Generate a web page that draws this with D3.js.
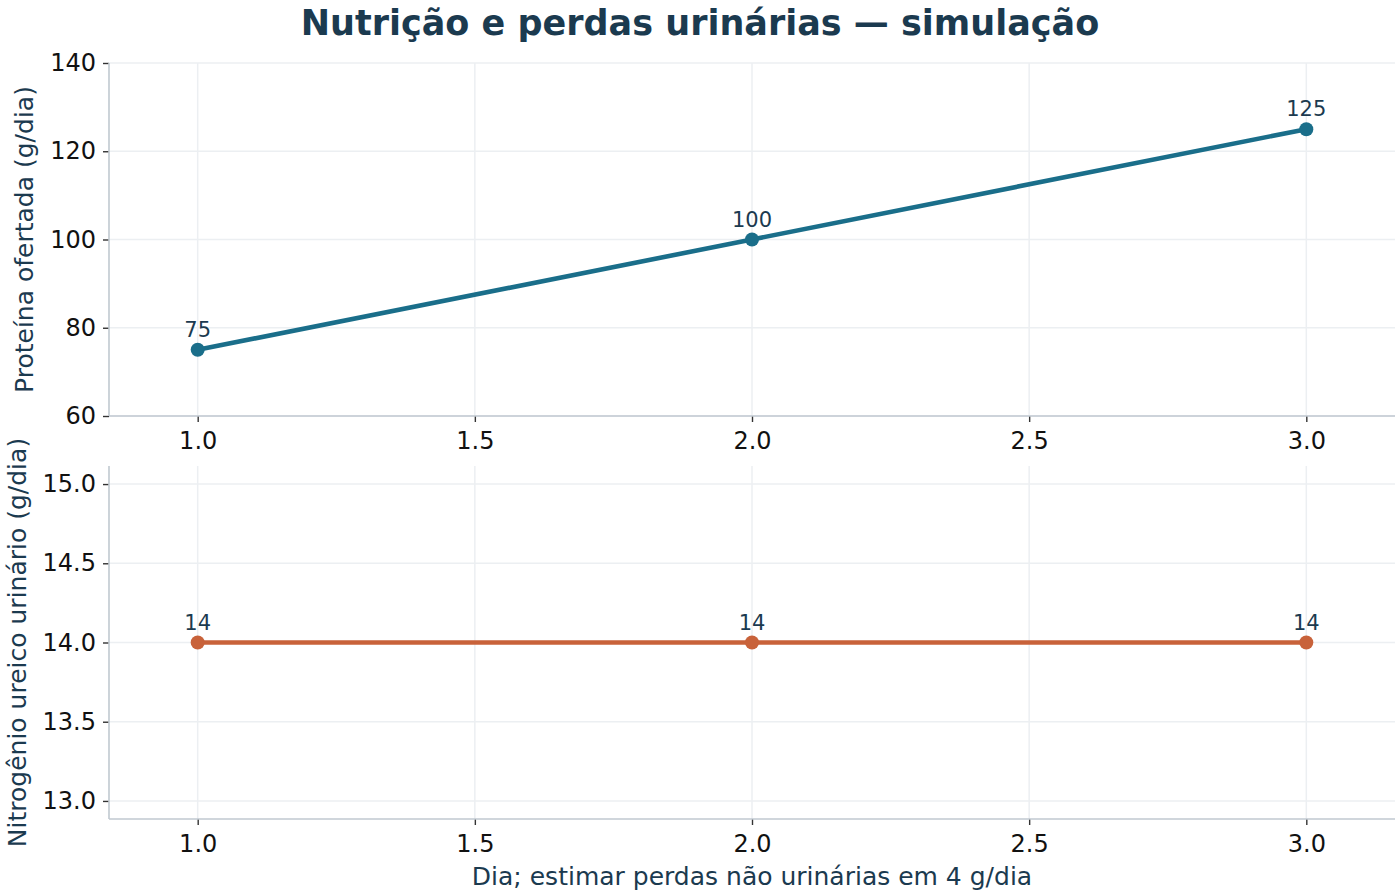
<!DOCTYPE html>
<html>
<head>
<meta charset="utf-8">
<script src="https://d3js.org/d3.v7.min.js"></script>
<style>
    body { margin: 0; background: white; }
    svg text { font-family: 'DejaVu Sans', sans-serif; }
</style>
</head>
<body>
<svg id="chart" width="1400" height="896"></svg>
<script>
// data
const dias = [1, 2, 3];
const proteina = [75, 100, 125];
const nitrogenio = [14, 14, 14];
const xTicks = [1.0, 1.5, 2.0, 2.5, 3.0];
const yTicksTop = [60, 80, 100, 120, 140];
const yTicksBottom = [13.0, 13.5, 14.0, 14.5, 15.0];

const svg = d3.select('#chart');
const left = 109, right = 1395;
const x = d3.scaleLinear().domain([0.84, 3.16]).range([left, right]);

svg.append('text')
    .attr('x', 700).attr('y', 35)
    .attr('text-anchor', 'middle')
    .attr('font-size', 35).attr('font-weight', 'bold')
    .attr('fill', '#1b3a4f')
    .text('Nutrição e perdas urinárias — simulação');

function panel(top, bottom, yDomain, yTicks, fmt, values, color, label, labelX) {
    const y = d3.scaleLinear().domain(yDomain).range([bottom, top]);
    const g = svg.append('g');

    // grid
    g.selectAll('.gx').data(xTicks).join('line')
        .attr('x1', d => x(d)).attr('x2', d => x(d))
        .attr('y1', top).attr('y2', bottom)
        .attr('stroke', '#eceff2').attr('stroke-width', 1.5);
    g.selectAll('.gy').data(yTicks).join('line')
        .attr('x1', left).attr('x2', right)
        .attr('y1', d => y(d)).attr('y2', d => y(d))
        .attr('stroke', '#eceff2').attr('stroke-width', 1.5);

    const yAxis = g.append('g')
        .attr('transform', 'translate(' + left + ',0)')
        .call(d3.axisLeft(y).tickValues(yTicks).tickFormat(fmt).tickSize(6).tickPadding(7));
    const xAxis = g.append('g')
        .attr('transform', 'translate(0,' + bottom + ')')
        .call(d3.axisBottom(x).tickValues(xTicks).tickFormat(d3.format('.1f')).tickSize(6).tickPadding(9.5));
    [yAxis, xAxis].forEach(a => {
        a.select('.domain').remove();
        a.selectAll('.tick line').attr('stroke', '#333').attr('stroke-width', 1.4);
        a.selectAll('.tick text').attr('font-size', 24).attr('fill', '#111')
            .attr('font-family', "'DejaVu Sans', sans-serif");
    });

    // spines
    g.append('line').attr('x1', left).attr('x2', left).attr('y1', top).attr('y2', bottom)
        .attr('stroke', '#c0c9d0').attr('stroke-width', 1.6);
    g.append('line').attr('x1', left).attr('x2', right).attr('y1', bottom).attr('y2', bottom)
        .attr('stroke', '#c0c9d0').attr('stroke-width', 1.6);

    const pts = dias.map((d, i) => ({ x: d, y: values[i] }));
    g.append('path').datum(pts)
        .attr('fill', 'none').attr('stroke', color).attr('stroke-width', 4.6)
        .attr('d', d3.line().x(d => x(d.x)).y(d => y(d.y)));
    g.selectAll('.pt').data(pts).join('circle')
        .attr('cx', d => x(d.x)).attr('cy', d => y(d.y)).attr('r', 7)
        .attr('fill', color);
    g.selectAll('.lbl').data(pts).join('text')
        .attr('x', d => x(d.x)).attr('y', d => y(d.y) - 13)
        .attr('text-anchor', 'middle').attr('font-size', 21)
        .attr('fill', '#1b3a4f')
        .text(d => d.y);

    const mid = (top + bottom) / 2;
    g.append('text')
        .attr('transform', 'translate(' + labelX + ',' + mid + ') rotate(-90)')
        .attr('text-anchor', 'middle').attr('font-size', 25)
        .attr('fill', '#1b3a4f')
        .text(label);
}

panel(63, 416, [60, 140], yTicksTop, d3.format('d'), proteina, '#1a6e8a',
    'Proteína ofertada (g/dia)', 33);
panel(466, 819, [12.886, 15.114], yTicksBottom, d3.format('.1f'), nitrogenio, '#c8623a',
    'Nitrogênio ureico urinário (g/dia)', 26);

svg.append('text')
    .attr('x', (left + right) / 2).attr('y', 885)
    .attr('text-anchor', 'middle').attr('font-size', 25)
    .attr('fill', '#1b3a4f')
    .text('Dia; estimar perdas não urinárias em 4 g/dia');
</script>
</body>
</html>
